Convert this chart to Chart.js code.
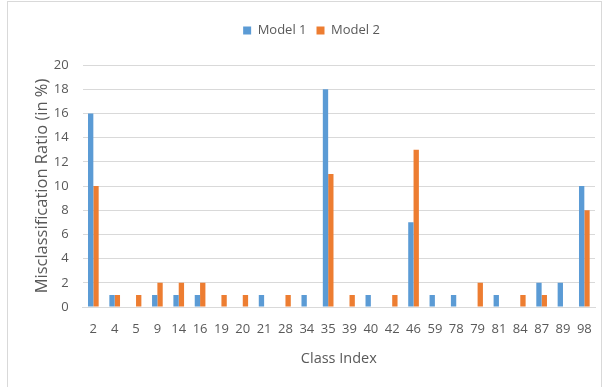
<!DOCTYPE html>
<html>
<head>
<meta charset="utf-8">
<script src="https://cdn.jsdelivr.net/npm/chart.js@4/dist/chart.umd.min.js"></script>
<style>
  html, body { margin: 0; padding: 0; background: #fff; }
  #wrap { position: relative; width: 606px; height: 387px; }
  #frame { position: absolute; left: 7px; top: 1px; width: 595px; height: 400px; border: 1px solid #D9D9D9; box-sizing: border-box; pointer-events: none; }
  canvas { position: absolute; left: 0; top: 0; }
</style>
</head>
<body>
<div id="wrap">
  <canvas id="c" width="606" height="387"></canvas>
  <div id="frame"></div>
</div>
<script>
const classIndex = ['2','4','5','9','14','16','19','20','21','28','34','35','39','40','42','46','59','78','79','81','84','87','89','98'];
const model1 = [16,1,0,1,1,1,0,0,1,0,1,18,0,1,0,7,1,1,0,1,0,2,2,10];
const model2 = [10,1,1,2,2,2,1,1,0,1,0,11,1,0,1,13,0,0,2,0,1,1,0,8];
const yTicks = [0,2,4,6,8,10,12,14,16,18,20];

const FONT = "'Open Sans', sans-serif";
const TEXT = '#595959';

// extra space between the legend and the plot area
const legendGap = {
  id: 'legendGap',
  beforeInit(chart) {
    const fit = chart.legend.fit;
    chart.legend.fit = function () {
      fit.call(this);
      this.height += 18;
    };
  }
};

new Chart(document.getElementById('c'), {
  type: 'bar',
  data: {
    labels: classIndex,
    datasets: [
      { label: 'Model 1', data: model1, backgroundColor: '#5B9BD5', borderWidth: 0 },
      { label: 'Model 2', data: model2, backgroundColor: '#ED7D31', borderWidth: 0 }
    ]
  },
  options: {
    responsive: false,
    animation: false,
    devicePixelRatio: 1,
    layout: { padding: { left: 28, right: 11, top: 14, bottom: 15 } },
    datasets: { bar: { barPercentage: 1, categoryPercentage: 0.5 } },
    plugins: {
      legend: {
        position: 'top',
        labels: { boxWidth: 8, boxHeight: 8, color: TEXT, font: { family: FONT, size: 13 }, padding: 10 }
      },
      tooltip: { enabled: false }
    },
    scales: {
      x: {
        grid: { display: false, drawTicks: false },
        border: { color: '#D9D9D9', width: 1 },
        ticks: { color: TEXT, font: { family: FONT, size: 13 }, padding: 14, autoSkip: false, maxRotation: 0 },
        title: { display: true, text: 'Class Index', color: TEXT, font: { family: FONT, size: 14.5 }, padding: { top: 0 } }
      },
      y: {
        min: 0, max: 20,
        afterBuildTicks: (axis) => { axis.ticks = yTicks.map(v => ({ value: v })); },
        grid: { color: '#D9D9D9', drawTicks: false },
        border: { display: false },
        ticks: { color: TEXT, font: { family: FONT, size: 13 }, padding: 14 },
        title: { display: true, text: 'Misclassification Ratio (in %)', color: TEXT, font: { family: FONT, size: 16.5 }, padding: { top: 4, bottom: -12 } }
      }
    }
  },
  plugins: [legendGap]
});
</script>
</body>
</html>
